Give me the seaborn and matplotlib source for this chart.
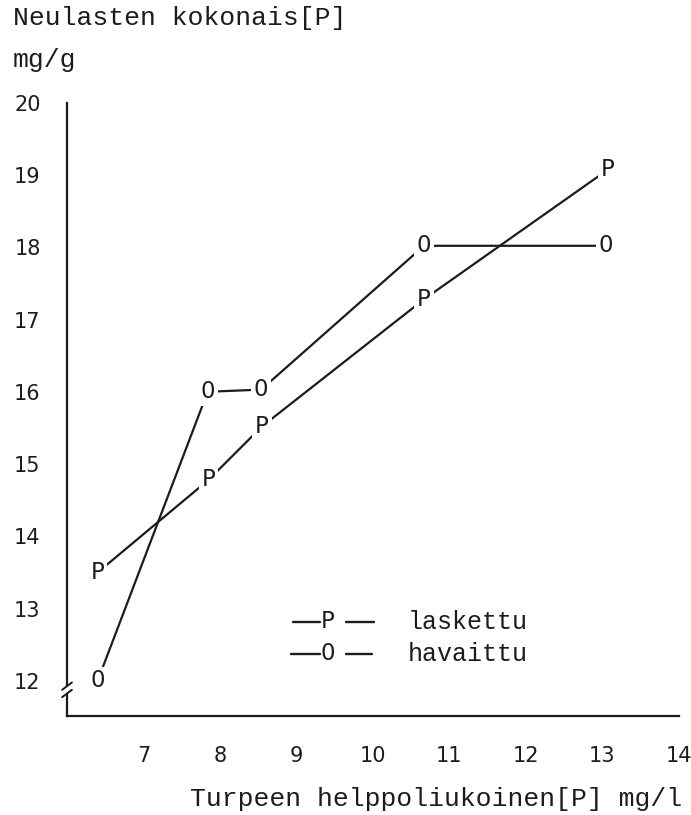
import matplotlib
matplotlib.use("Agg")
import matplotlib.pyplot as plt
import seaborn as sns
import pandas as pd

# Data
x_vals = [6.4, 7.85, 8.55, 10.67, 13.07]
laskettu = [13.5, 14.78, 15.52, 17.28, 19.07]   # P (calculated)
x_obs = [6.4, 7.84, 8.54, 10.67, 13.05]
havaittu = [12.0, 16.0, 16.03, 18.02, 18.02]    # 0 (observed)
x_ticks = [7, 8, 9, 10, 11, 12, 13, 14]
y_ticks = [12, 13, 14, 15, 16, 17, 18, 19, 20]

sns.set_theme(style="white")
plt.rcParams['font.family'] = ['DejaVu Sans']
INK = "#1c1c1c"
MONO = ['Liberation Mono', 'DejaVu Sans Mono']

df = pd.concat([
    pd.DataFrame({"x": x_vals, "y": laskettu, "s": "laskettu", "m": "P"}),
    pd.DataFrame({"x": x_obs, "y": havaittu, "s": "havaittu", "m": "0"}),
], ignore_index=True)

fig = plt.figure(figsize=(6.91, 8.15), dpi=100)
ax = fig.add_axes([0.097, 0.122, 0.885, 0.752])

for s in ["laskettu", "havaittu"]:
    sub = df[df.s == s]
    sns.lineplot(data=sub, x="x", y="y", sort=False, ax=ax, color=INK,
                 lw=1.6, legend=False, zorder=2)

for _, r in df.iterrows():
    ax.text(r.x, r.y, r.m, ha="center", va="center", fontsize=16.5, color=INK,
            zorder=5, bbox=dict(facecolor="white", edgecolor="none", pad=2.0))

ax.set_xlim(6, 14)
ax.set_ylim(11.52, 20)
ax.set_xticks(x_ticks)
ax.set_yticks(y_ticks)
ax.set_xticklabels([str(t) for t in x_ticks])
ax.set_yticklabels([str(t) for t in y_ticks])
ax.set_xlabel("")
ax.set_ylabel("")
for side in ["top", "right"]:
    ax.spines[side].set_visible(False)
for side in ["left", "bottom"]:
    ax.spines[side].set_color(INK)
    ax.spines[side].set_linewidth(1.6)
ax.tick_params(axis="both", which="major", direction="out", colors=INK,
               labelsize=15, width=1.6)
ax.tick_params(axis="y", length=9, pad=10)
ax.tick_params(axis="x", length=7, pad=15)

# axis break on y axis
tr = ax.transAxes
ax.plot([-0.012, 0.012], [0.036, 0.048], transform=tr, color="white", lw=5,
        clip_on=False, zorder=6, solid_capstyle="butt")
for dy in [0.0, 0.012]:
    ax.plot([-0.008, 0.008], [0.030 + dy, 0.042 + dy], transform=tr,
            color=INK, lw=1.4, clip_on=False, zorder=7)

# legend drawn as dash - symbol - dash plus typewriter labels
def ax_x(px):
    return (px - 67) / 612.0

def ax_y(py):
    return 1 - (py - 103) / 613.0

for sym, py, l0, l1, r0, r1 in [("P", 622, 293, 320, 346, 374),
                                 ("0", 654, 291, 320, 346, 372)]:
    yy = ax_y(py)
    ax.plot([ax_x(l0), ax_x(l1)], [yy, yy], transform=tr, color=INK, lw=1.7)
    ax.plot([ax_x(r0), ax_x(r1)], [yy, yy], transform=tr, color=INK, lw=1.7)
    ax.text(ax_x(328), yy, sym, transform=tr, fontsize=16.5,
            color=INK, ha="center", va="center")

ax.text(ax_x(408), ax_y(622), "laskettu", transform=tr, fontsize=18,
        color=INK, ha="left", va="center", family=MONO)
ax.text(ax_x(408), ax_y(654), "havaittu", transform=tr, fontsize=18,
        color=INK, ha="left", va="center", family=MONO)

fig.text(13 / 691, 1 - 18 / 815, "Neulasten kokonais[P]", fontsize=19,
         family=MONO, color=INK, ha="left", va="center")
fig.text(13 / 691, 1 - 60 / 815, "mg/g", fontsize=19, family=MONO,
         color=INK, ha="left", va="center")
fig.text(682 / 691, 1 - 799 / 815, "Turpeen helppoliukoinen[P] mg/l",
         fontsize=19, family=MONO, color=INK, ha="right", va="center")

fig.savefig("out.png", dpi=100, facecolor="white")
